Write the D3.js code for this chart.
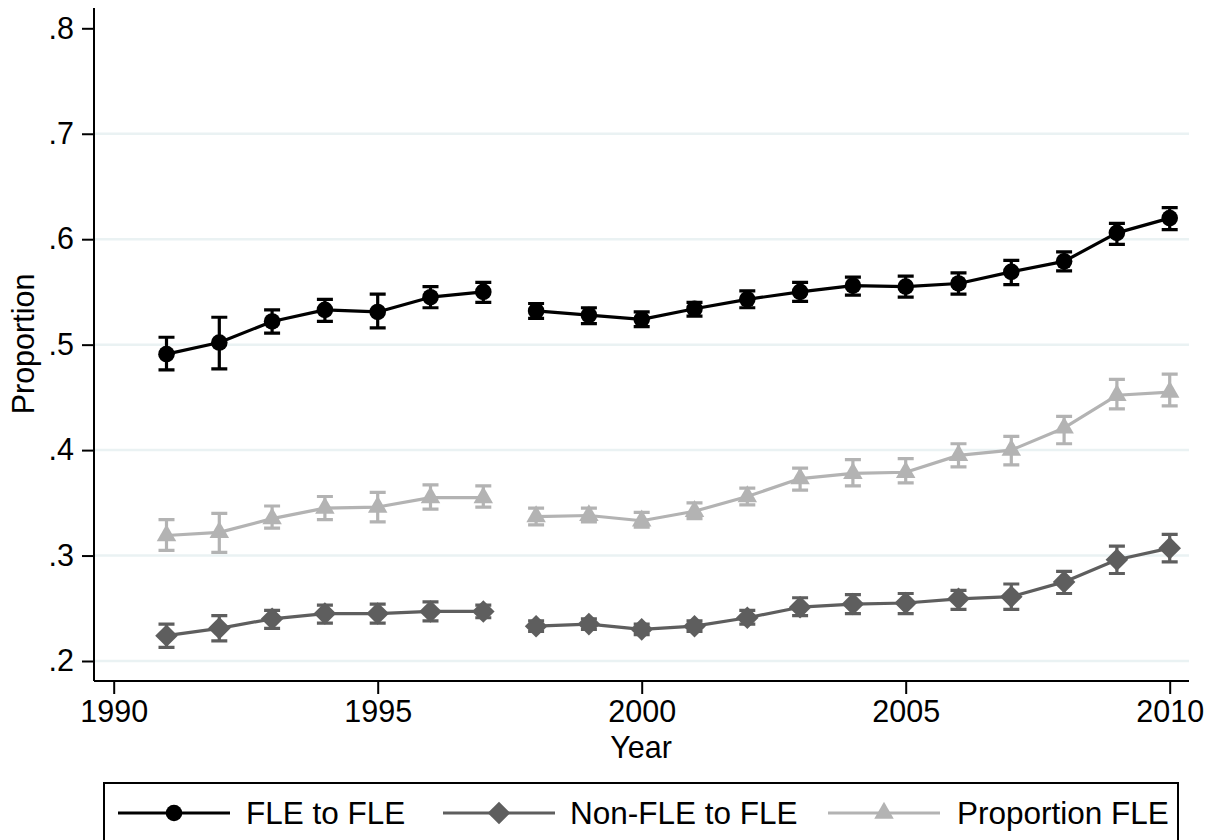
<!DOCTYPE html>
<html>
<head>
<meta charset="utf-8">
<script src="https://cdn.jsdelivr.net/npm/d3@7"></script>
<style>
  html, body { margin: 0; padding: 0; background: #fff; }
  svg { display: block; }
  text { font-family: "Liberation Sans", Arial, sans-serif; fill: #000; }
</style>
</head>
<body>
<svg id="chart" width="1215" height="840"></svg>
<script>
// ---------- data ----------
const years = [1991,1992,1993,1994,1995,1996,1997,1998,1999,2000,2001,2002,2003,2004,2005,2006,2007,2008,2009,2010];
const gapAfterYear = 1997;

const fleMean = [0.491,0.502,0.522,0.533,0.531,0.545,0.550,0.532,0.528,0.524,0.534,0.543,0.550,0.556,0.555,0.558,0.569,0.579,0.606,0.620];
const fleLo   = [0.476,0.477,0.511,0.522,0.516,0.535,0.540,0.525,0.520,0.517,0.527,0.535,0.541,0.547,0.545,0.548,0.557,0.570,0.595,0.609];
const fleHi   = [0.507,0.526,0.533,0.543,0.548,0.555,0.559,0.539,0.535,0.531,0.540,0.551,0.559,0.564,0.565,0.568,0.580,0.588,0.615,0.630];

const nonMean = [0.224,0.231,0.240,0.245,0.245,0.247,0.247,0.233,0.235,0.230,0.233,0.241,0.251,0.254,0.255,0.259,0.261,0.275,0.296,0.307];
const nonLo   = [0.213,0.219,0.231,0.236,0.236,0.238,0.241,0.228,0.230,0.225,0.228,0.235,0.243,0.245,0.245,0.249,0.249,0.264,0.283,0.294];
const nonHi   = [0.235,0.243,0.248,0.253,0.254,0.256,0.253,0.238,0.240,0.235,0.238,0.248,0.260,0.263,0.264,0.267,0.273,0.285,0.309,0.320];

const propMean = [0.319,0.322,0.335,0.345,0.346,0.355,0.355,0.337,0.338,0.333,0.342,0.356,0.373,0.378,0.379,0.395,0.400,0.421,0.452,0.455];
const propLo   = [0.305,0.303,0.326,0.334,0.332,0.344,0.346,0.329,0.332,0.327,0.335,0.348,0.362,0.366,0.369,0.384,0.386,0.406,0.439,0.442];
const propHi   = [0.334,0.340,0.347,0.356,0.360,0.367,0.366,0.345,0.345,0.341,0.350,0.364,0.383,0.391,0.392,0.406,0.413,0.432,0.467,0.472];

const seriesNames = ["FLE to FLE", "Non-FLE to FLE", "Proportion FLE"];
const yTicks = [0.2,0.3,0.4,0.5,0.6,0.7,0.8];
const yTickLabels = [".2",".3",".4",".5",".6",".7",".8"];
const gridTicks = [0.2,0.3,0.4,0.5,0.6,0.7];
const xTicks = [1990,1995,2000,2005,2010];
const xTitle = "Year";
const yTitle = "Proportion";

// ---------- layout ----------
const svg = d3.select("#chart");
const plotL = 94, plotR = 1189, plotT = 8, plotB = 681;

const x = d3.scaleLinear().domain([1990, 2010]).range([113.7, 1169.7]);
const y = d3.scaleLinear().domain([0.2, 0.8]).range([661, 28.3]);

// gridlines
svg.append("g").selectAll("line").data(gridTicks).join("line")
  .attr("x1", plotL).attr("x2", plotR)
  .attr("y1", d => y(d)).attr("y2", d => y(d))
  .attr("stroke", "#eaf2f3").attr("stroke-width", 2.5);

// axes
const yAxis = d3.axisLeft(y).tickValues(yTicks)
  .tickFormat((d,i) => yTickLabels[i]).tickSize(12).tickPadding(8);
const gy = svg.append("g").attr("transform", `translate(${plotL},0)`).call(yAxis);
gy.select(".domain").attr("d", `M0,${plotT}V${plotB}`).attr("stroke", "#000").attr("stroke-width", 2);
gy.selectAll(".tick line").attr("stroke", "#000").attr("stroke-width", 2);
gy.selectAll(".tick text").attr("font-size", 30.5).attr("font-family", "Liberation Sans, Arial, sans-serif").attr("fill", "#000");

const xAxis = d3.axisBottom(x).tickValues(xTicks).tickFormat(d3.format("d")).tickSize(13).tickPadding(6);
const gx = svg.append("g").attr("transform", `translate(0,${plotB})`).call(xAxis);
gx.select(".domain").attr("d", `M${plotL},0H${plotR}`).attr("stroke", "#000").attr("stroke-width", 2);
gx.selectAll(".tick line").attr("stroke", "#000").attr("stroke-width", 2);
gx.selectAll(".tick text").attr("font-size", 30.5).attr("font-family", "Liberation Sans, Arial, sans-serif").attr("fill", "#000");

// axis titles
svg.append("text").attr("x", 641).attr("y", 758).attr("text-anchor", "middle")
  .attr("font-size", 30.5).text(xTitle);
svg.append("text").attr("transform", "translate(34,344) rotate(-90)").attr("text-anchor", "middle")
  .attr("font-size", 30.5).text(yTitle);

// ---------- series ----------
const diamondPath = (s) => `M0,${-s}L${s},0L0,${s}L${-s},0Z`;
const markers = [
  { draw: (g, c) => g.append("circle").attr("r", 8.3).attr("fill", c) },
  { draw: (g, c) => g.append("path").attr("d", diamondPath(11.3)).attr("fill", c) },
  { draw: (g, c) => g.append("path").attr("d", d3.symbol(d3.symbolTriangle, 165)()).attr("fill", c) }
];
const colors = ["#000000", "#5e5e5e", "#b3b3b3"];
const series = [
  { mean: fleMean, lo: fleLo, hi: fleHi },
  { mean: nonMean, lo: nonLo, hi: nonHi },
  { mean: propMean, lo: propLo, hi: propHi }
];

const line = d3.line().x(d => x(d.year)).y(d => y(d.v));

series.forEach((s, si) => {
  const pts = years.map((yr, i) => ({ year: yr, v: s.mean[i], lo: s.lo[i], hi: s.hi[i] }));
  const g = svg.append("g");
  const c = colors[si];
  // error bars
  const eb = g.append("g").attr("stroke", c).attr("stroke-width", 3.2).attr("fill", "none");
  pts.forEach(p => {
    const px = x(p.year);
    eb.append("path").attr("d",
      `M${px},${y(p.lo)}V${y(p.hi)}M${px-8},${y(p.lo)}H${px+8}M${px-8},${y(p.hi)}H${px+8}`);
  });
  // lines (two segments, break after gapAfterYear)
  const segs = [pts.filter(p => p.year <= gapAfterYear), pts.filter(p => p.year > gapAfterYear)];
  segs.forEach(seg => {
    g.append("path").datum(seg).attr("d", line).attr("fill", "none")
      .attr("stroke", c).attr("stroke-width", 3.2).attr("stroke-linejoin", "round");
  });
  // markers
  pts.forEach(p => {
    const mg = g.append("g").attr("transform", `translate(${x(p.year)},${y(p.v)})`);
    markers[si].draw(mg, c);
  });
});

// ---------- legend ----------
const leg = svg.append("g");
leg.append("rect").attr("x", 104).attr("y", 783).attr("width", 1074).attr("height", 80)
  .attr("fill", "#fff").attr("stroke", "#000").attr("stroke-width", 2);
const legItems = [
  { x1: 118, x2: 230, text: 246 },
  { x1: 443, x2: 555, text: 570 },
  { x1: 828, x2: 940, text: 957 }
];
const legY = 813;
legItems.forEach((it, i) => {
  leg.append("line").attr("x1", it.x1).attr("x2", it.x2).attr("y1", legY).attr("y2", legY)
    .attr("stroke", colors[i]).attr("stroke-width", 3.2);
  const mg = leg.append("g").attr("transform", `translate(${(it.x1 + it.x2) / 2},${legY})`);
  markers[i].draw(mg, colors[i]);
  leg.append("text").attr("x", it.text).attr("y", legY + 11).attr("font-size", 31.5).text(seriesNames[i]);
});
</script>
</body>
</html>
